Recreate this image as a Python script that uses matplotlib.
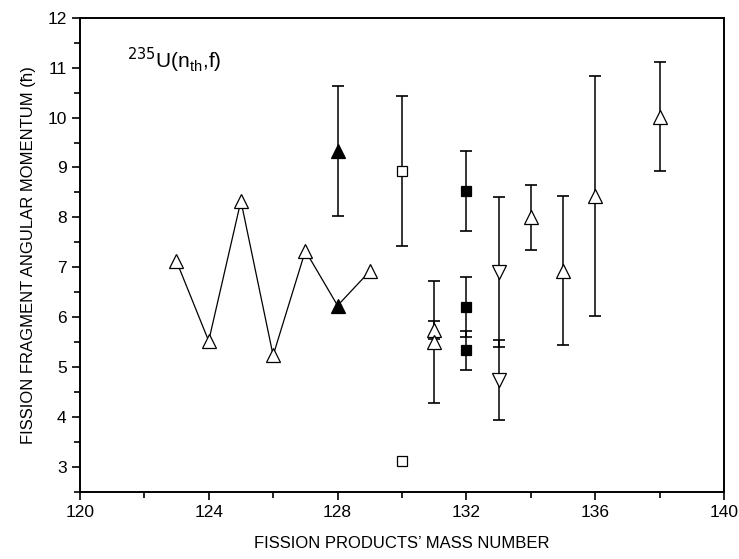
import matplotlib.pyplot as plt
from matplotlib.ticker import MultipleLocator

plt.rcParams['font.family'] = ['Liberation Sans', 'DejaVu Sans']

# thermal-neutron fission of U-235, connected series
LINE_MASS = [123, 124, 125, 126, 127, 128, 129]
LINE_J = [7.12, 5.52, 8.33, 5.23, 7.33, 6.23, 6.92]
LINE_FILLED = [False, False, False, False, False, True, False]

# points with error bars: mass, value, error, marker, filled
ERR_MASS = [128, 130, 131, 131, 132, 132, 132, 133, 133, 134, 135, 136, 138]
ERR_J = [9.33, 8.93, 5.75, 5.50, 8.53, 6.20, 5.33, 6.90, 4.74, 8.00, 6.93, 8.43, 10.02]
ERR_DJ = [1.30, 1.50, 0.18, 1.22, 0.80, 0.60, 0.40, 1.50, 0.80, 0.65, 1.50, 2.40, 1.10]
ERR_MARKER = ['^', 's', '^', '^', 's', 's', 's', 'v', 'v', '^', '^', '^', '^']
ERR_FILLED = [True, False, False, False, True, True, True, False, False, False, False, False, False]

# single point without error
EXTRA_MASS = [130]
EXTRA_J = [3.11]


def main():
    fig = plt.figure(figsize=(7.39, 5.59), dpi=100)
    ax = fig.add_axes([0.108, 0.1206, 0.872, 0.8474])

    ax.plot(LINE_MASS, LINE_J, color='black', lw=0.9, zorder=2)
    for m, j, f in zip(LINE_MASS, LINE_J, LINE_FILLED):
        ax.plot(m, j, marker='^', ms=9.5, mec='black', mew=0.9,
                mfc='black' if f else 'white', zorder=3)

    for m, j, dj, mk, f in zip(ERR_MASS, ERR_J, ERR_DJ, ERR_MARKER, ERR_FILLED):
        ms = 7 if mk == 's' else 9.5
        ax.errorbar(m, j, yerr=dj, fmt='none', ecolor='black', elinewidth=1.1,
                    capsize=4.5, capthick=1.2, zorder=2)
        ax.plot(m, j, marker=mk, ms=ms, mec='black', mew=0.9,
                mfc='black' if f else 'white', zorder=3)

    ax.plot(EXTRA_MASS, EXTRA_J, 's', ms=7, mec='black', mew=0.9, mfc='white', zorder=3)

    ax.text(121.45, 11.0, r'$^{235}$U(n$_{\mathregular{th}}$,f)', fontsize=15)

    ax.set_xlim(120, 140)
    ax.set_ylim(2.5, 12)
    ax.xaxis.set_major_locator(MultipleLocator(4))
    ax.xaxis.set_minor_locator(MultipleLocator(2))
    ax.yaxis.set_major_locator(MultipleLocator(1))
    ax.yaxis.set_minor_locator(MultipleLocator(0.5))
    ax.tick_params(which='both', direction='out', width=1.2, labelsize=12.5)
    ax.tick_params(which='major', length=6)
    ax.tick_params(which='minor', length=4)
    for s in ax.spines.values():
        s.set_linewidth(1.4)

    ax.set_xlabel('FISSION PRODUCTS\u2019 MASS NUMBER', fontsize=12, labelpad=12)
    ax.set_ylabel('FISSION FRAGMENT ANGULAR MOMENTUM (\u0127)', fontsize=12, labelpad=8)

    fig.savefig('out.png', dpi=100)


if __name__ == "__main__":
    main()
